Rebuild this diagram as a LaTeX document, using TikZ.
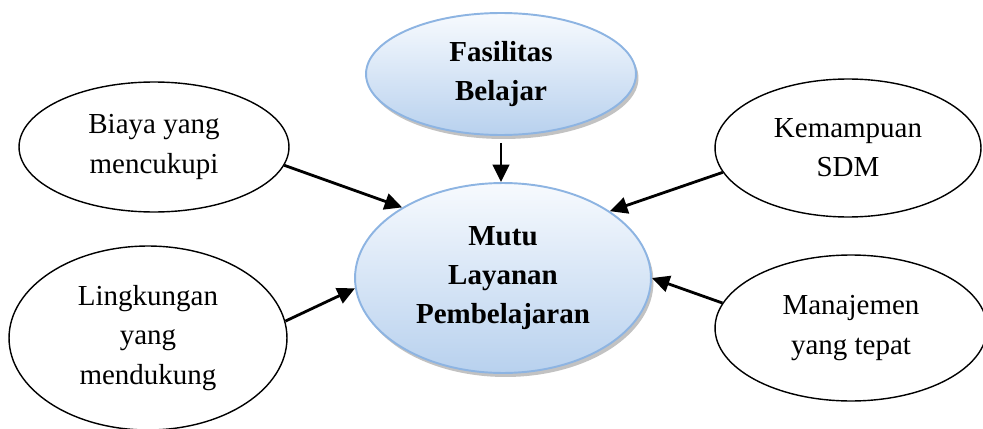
\documentclass[tikz,border=0pt]{standalone}
\usepackage{fontspec}
\setmainfont{Liberation Serif}
\usetikzlibrary{arrows.meta,shapes.geometric,shadows}
\definecolor{rim}{HTML}{8DB4E2}
\definecolor{filltop}{HTML}{F7FAFE}
\definecolor{fillbot}{HTML}{B8D1EE}

\begin{document}
\begin{tikzpicture}[x=0.02cm, y=-0.02cm,
	factor/.style = {draw, ellipse, line width=0.8pt, inner sep=0pt, align=center,
		font=\fontsize{16.5}{22.3}\selectfont},
	core/.style = {factor, draw=rim, line width=1.1pt, top color=filltop, bottom color=fillbot,
		font=\fontsize{16.5}{22.3}\selectfont\bfseries,
		drop shadow={shadow xshift=0.05cm, shadow yshift=-0.08cm, fill=black!40, opacity=0.6}},
	link/.style = {-{Triangle[length=3.5mm, width=3.3mm]}, line width=1.6pt}]
	\useasboundingbox (0,0) rectangle (983,429);
	\node[core, minimum width=5.4cm, minimum height=2.44cm] (fas) at (501,74) {Fasilitas\\Belajar};
	\node[core, minimum width=5.92cm, minimum height=3.8cm] (mutu) at (503,278) {Mutu\\Layanan\\Pembelajaran};
	\node[factor, minimum width=5.4cm, minimum height=2.6cm] (biaya) at (154,147) {Biaya yang\\mencukupi};
	\node[factor, minimum width=5.56cm, minimum height=3.68cm] (lingk) at (148,338) {Lingkungan\\yang\\mendukung};
	\node[factor, minimum width=5.32cm, minimum height=2.76cm] (sdm) at (848,148) {Kemampuan\\SDM};
	\node[factor, minimum width=5.44cm, minimum height=2.92cm] (manaj) at (851,328) {Manajemen\\yang tepat};
	\path[link]
		(fas.south) edge[shorten <=0.14cm] (fas.south |- mutu.north)
		(biaya.-8) edge (mutu.145)
		(lingk.7) edge (mutu.184)
		(sdm.191) edge (mutu.32)
		(manaj.169) edge (mutu.0);
\end{tikzpicture}
\end{document}
